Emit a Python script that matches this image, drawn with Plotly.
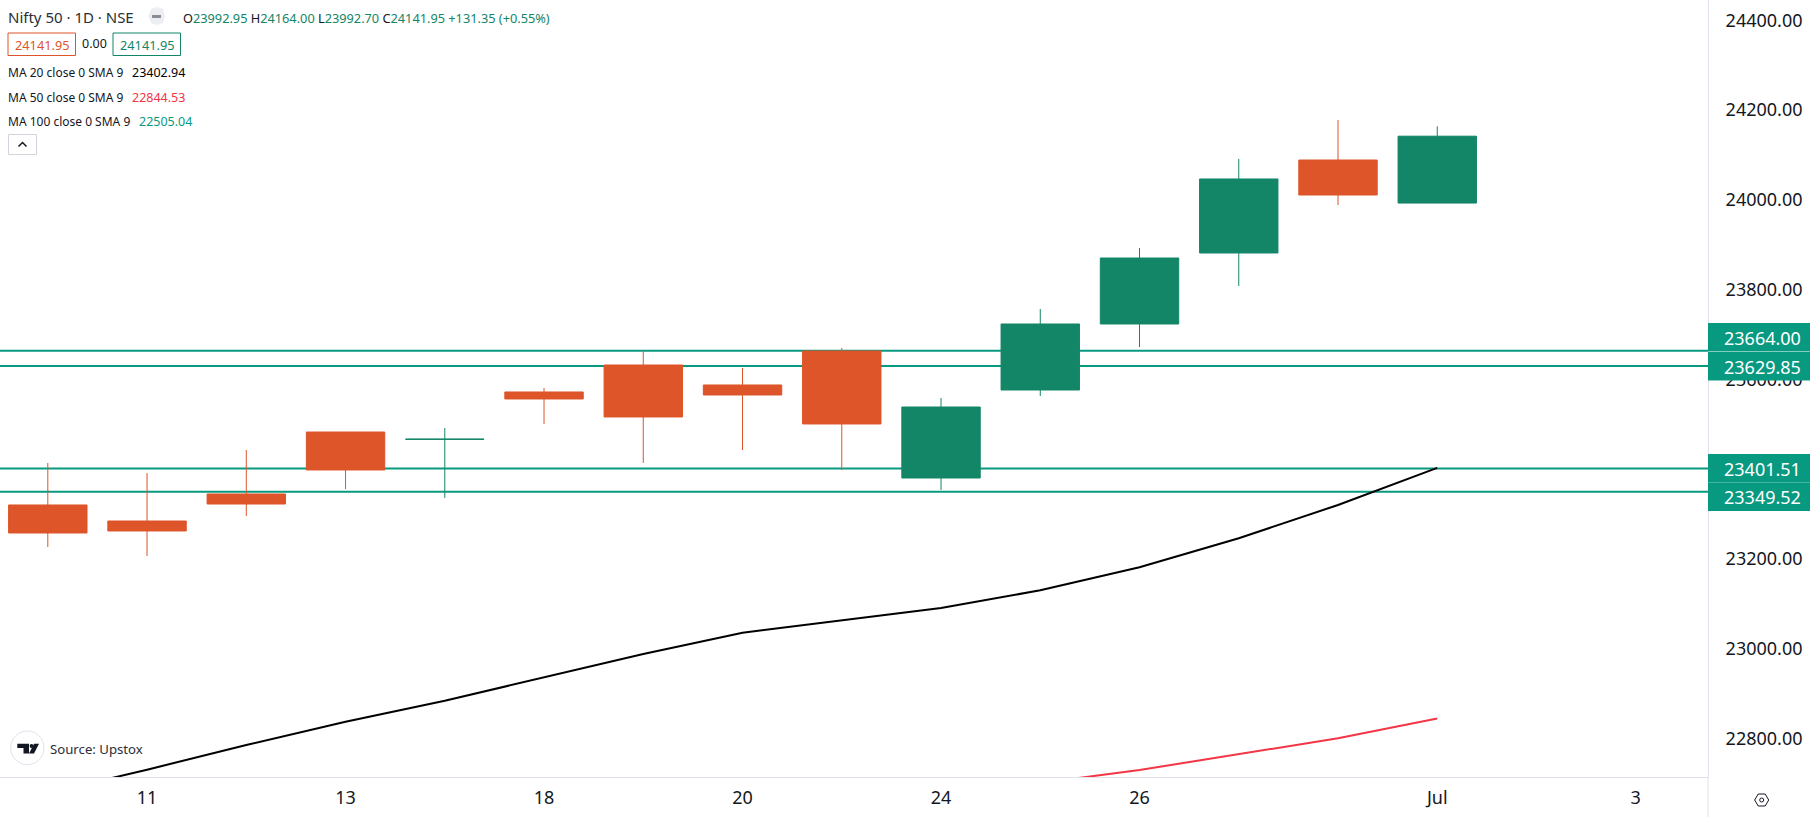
import plotly.graph_objects as go

# ------------------------------------------------------ #
#                        Data                            #
# ------------------------------------------------------ #
dates = ["10 Jun", "11 Jun", "12 Jun", "13 Jun", "14 Jun", "18 Jun", "19 Jun", "20 Jun",
         "21 Jun", "24 Jun", "25 Jun", "26 Jun", "27 Jun", "28 Jun", "1 Jul"]
future_dates = ["2 Jul", "3 Jul"]

opens = [23320.2, 23284.5, 23344.7, 23482.8, 23466.4, 23572.0, 23632.1, 23587.6,
         23663.3, 23380.3, 23576.4, 23723.5, 23881.7, 24088.9, 23992.95]
highs = [23413.8, 23391.5, 23442.7, 23482.8, 23491.7, 23580.9, 23665.6, 23625.4,
         23670.0, 23558.6, 23756.9, 23892.8, 24091.1, 24178.0, 24164.00]
lows = [23226.6, 23206.5, 23295.7, 23355.8, 23335.8, 23500.7, 23413.8, 23442.7,
        23398.2, 23353.6, 23563.1, 23672.2, 23808.2, 23988.6, 23992.70]
closes = [23257.8, 23262.3, 23322.4, 23398.2, 23466.8, 23556.4, 23516.3, 23565.3,
          23500.7, 23538.5, 23723.5, 23870.5, 24046.6, 24010.9, 24141.95]

ma20 = [22678.0, 22730.4, 22785.4, 22837.3, 22884.1, 22936.3, 22988.2, 23035.6,
        23062.4, 23090.7, 23130.1, 23181.4, 23246.0, 23320.2, 23402.94]
ma50_dates = ["24 Jun", "25 Jun", "26 Jun", "27 Jun", "28 Jun", "1 Jul"]
ma50 = [22685.1, 22700.7, 22729.7, 22764.7, 22800.3, 22844.53]

level_values = [23664.00, 23629.85, 23401.51, 23349.52]
level_labels = ["23664.00", "23629.85", "23401.51", "23349.52"]

price_ticks = [22800, 23000, 23200, 23400, 23600, 23800, 24000, 24200, 24400]
date_ticks = ["11 Jun", "13 Jun", "18 Jun", "20 Jun", "24 Jun", "26 Jun", "1 Jul", "3 Jul"]
date_tick_labels = ["11", "13", "18", "20", "24", "26", "Jul", "3"]

# ------------------------------------------------------ #
#                    Fixed variables                     #
# ------------------------------------------------------ #
GREEN = "#138667"
ORANGE = "#DD5529"
LEVEL = "#089981"
RED = "#F23645"
TEXT = "#131722"
BORDER = "#E0E3EB"
FONT = "Noto Sans"

W, H = 1810, 817
PLOT_W, PLOT_H = 1708, 777


def px(x):
    return x / PLOT_W


def py(y):
    return 1 - y / PLOT_H


def label(x, y, text, size=13, color=TEXT, anchor="left"):
    fig.add_annotation(xref="paper", yref="paper", x=px(x), y=py(y), text=text, showarrow=False,
                       xanchor=anchor, yanchor="middle", align="left", borderpad=0,
                       font=dict(family=FONT, size=size, color=color))


def box(x0, y0, x1, y1, line=None, fill=None, width=1):
    fig.add_shape(type="rect", xref="paper", yref="paper", x0=px(x0), x1=px(x1), y0=py(y0), y1=py(y1),
                  line=dict(color=line, width=width if line else 0), fillcolor=fill, layer="above")


def path(points, fill=None, line=None, width=0):
    d = "M " + " L ".join(f"{px(x)} {py(y)}" for x, y in points) + " Z"
    fig.add_shape(type="path", xref="paper", yref="paper", path=d, fillcolor=fill,
                  line=dict(color=line, width=width), layer="above")


fig = go.Figure()

for value in level_values:
    fig.add_hline(y=value, line_color=LEVEL, line_width=2, layer="below")

fig.add_trace(go.Candlestick(
    x=dates, open=opens, high=highs, low=lows, close=closes,
    increasing=dict(line=dict(color=GREEN, width=1), fillcolor=GREEN),
    decreasing=dict(line=dict(color=ORANGE, width=1), fillcolor=ORANGE),
    whiskerwidth=0, showlegend=False,
))
fig.add_trace(go.Scatter(x=dates, y=ma20, mode="lines", line=dict(color="#000000", width=2), showlegend=False))
fig.add_trace(go.Scatter(x=ma50_dates, y=ma50, mode="lines", line=dict(color=RED, width=2), showlegend=False))

fig.update_layout(
    width=W, height=H, autosize=False,
    margin=dict(l=0, r=W - PLOT_W, t=0, b=H - PLOT_H),
    paper_bgcolor="#FFFFFF", plot_bgcolor="#FFFFFF",
    boxmode="overlay", boxgap=0.21, boxgroupgap=0,
    font=dict(family=FONT, size=18, color=TEXT),
    hovermode=False,
    xaxis=dict(type="category", categoryorder="array", categoryarray=dates + future_dates,
               range=[-0.4816, 16.728], tickmode="array", tickvals=date_ticks, ticktext=date_tick_labels,
               showgrid=False, zeroline=False, rangeslider=dict(visible=False),
               showline=True, linecolor=BORDER, linewidth=1, ticks="",
               ticklabelstandoff=4, tickfont=dict(family=FONT, size=18, color=TEXT)),
    yaxis=dict(side="right", range=[22714.1, 24445.4], tickmode="array", tickvals=price_ticks,
               tickformat=".2f", showgrid=False, zeroline=False,
               showline=True, linecolor=BORDER, linewidth=1, ticks="",
               ticklabelstandoff=13, tickfont=dict(family=FONT, size=18, color=TEXT)),
)

# price labels on the axis, pushed apart like TradingView does when they overlap
for text, top in zip(level_labels, [323, 352, 454, 482.5]):
    box(PLOT_W, top, W, top + 28.5, fill=LEVEL)
    label(W - 8, top + 14.5, text, size=18, color="#FFFFFF", anchor="right")

# header
label(7, 17, "Nifty 50 · 1D · NSE", size=15, color="#2A2E39")
path([(148.5, 16), (151, 9), (157, 7), (163, 9), (165, 16), (163, 23), (157, 25), (151, 23)], fill="#EDEEF2")
box(152, 15, 161, 18, fill="#8A8D96")


def v(s):
    return f'<span style="color:{GREEN}">{s}</span>'


label(182, 18, "O" + v("23992.95") + " H" + v("24164.00") + " L" + v("23992.70")
      + " C" + v("24141.95") + " " + v("+131.35 (+0.55%)"), size=12.75)

box(8, 33, 75.5, 55.5, line=ORANGE)
label(41.7, 44.5, "24141.95", size=12.75, color=ORANGE, anchor="center")
label(94, 44, "0.00", size=12.5, anchor="center")
box(113, 33, 180.5, 55.5, line=GREEN)
label(146.7, 44.5, "24141.95", size=12.75, color=GREEN, anchor="center")

label(7, 73, "MA 20 close 0 SMA 9", size=12)
label(131, 73, "23402.94", size=12.5, color="#000000")
label(7, 97, "MA 50 close 0 SMA 9", size=12)
label(131, 97, "22844.53", size=12.5, color=RED)
label(7, 121, "MA 100 close 0 SMA 9", size=12)
label(138, 121, "22505.04", size=12.5, color=LEVEL)

box(8.5, 134.5, 36.5, 154.5, line="#D1D4DC")
fig.add_shape(type="path", xref="paper", yref="paper",
              path=f"M {px(18.5)} {py(146.5)} L {px(22.5)} {py(142.5)} L {px(26.5)} {py(146.5)}",
              line=dict(color=TEXT, width=1.5), layer="above")

# source logo
fig.add_shape(type="circle", xref="paper", yref="paper", x0=px(10.7), x1=px(44), y0=py(764.7), y1=py(731),
              line=dict(color=BORDER, width=1), fillcolor="#FFFFFF", layer="above")
path([(17.3, 743.7), (29, 743.7), (29, 753.5), (23.5, 753.5), (23.5, 748), (17.3, 748)], fill=TEXT)
fig.add_shape(type="circle", xref="paper", yref="paper", x0=px(29.6), x1=px(33.4), y0=py(748), y1=py(744),
              line=dict(width=0), fillcolor=TEXT, layer="above")
path([(34, 743.7), (39, 743.7), (34, 753.5), (29, 753.5)], fill=TEXT)
label(48.5, 749, "Source: Upstox", size=13.2, color="#2A2E39")

# settings icon in the corner
fig.add_shape(type="line", xref="paper", yref="paper", x0=1, x1=1, y0=0, y1=py(H),
              line=dict(color=BORDER, width=1), layer="above")
path([(1754.7, 800), (1758.2, 794), (1765.2, 794), (1768.7, 800), (1765.2, 806), (1758.2, 806)],
     line=TEXT, width=1)
fig.add_shape(type="circle", xref="paper", yref="paper", x0=px(1759.7), x1=px(1763.7), y0=py(802), y1=py(798),
              line=dict(color=TEXT, width=1), layer="above")

fig.write_html("out.html", config=dict(displayModeBar=False),
               post_script="document.body.style.margin='0';document.body.style.overflow='hidden';")
